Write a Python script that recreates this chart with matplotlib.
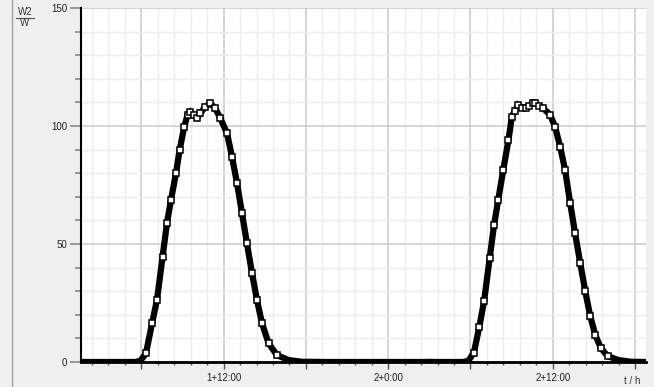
import numpy as np
import matplotlib.pyplot as plt
from matplotlib.ticker import MultipleLocator, FuncFormatter
from matplotlib.lines import Line2D

plt.rcParams['font.family'] = ['Liberation Sans', 'DejaVu Sans']

# time in hours (day*24 + hour), values in W2/W
t_day1 = [25.6, 27.0, 28.5, 29.56, 29.93, 30.34, 30.78, 31.14, 31.55, 31.87, 32.16,
          32.53, 32.79, 33.13, 33.37, 33.57, 33.83, 34.08, 34.30, 34.66, 35.03,
          35.39, 35.76, 36.25, 36.61, 36.98, 37.34, 37.70, 38.07, 38.43, 38.80,
          39.28, 39.89, 40.74, 41.71, 43.5, 46.0, 48.5, 51.0]
v_day1 = [0, 0, 0, 0, 0.5, 3.7, 16.4, 26.3, 44.6, 58.9, 68.6,
          80.1, 89.8, 99.7, 104.7, 106.0, 104.5, 103.5, 105.5, 108.0, 109.6,
          107.5, 103.3, 96.9, 87.0, 75.7, 63.0, 50.3, 37.6, 26.3, 16.4,
          7.9, 2.9, 0.8, 0.1, 0, 0, 0, 0]

t_day2 = [51.0, 53.45, 53.85, 54.25, 54.65, 55.0, 55.4, 55.72, 56.02, 56.39, 56.77,
          57.02, 57.25, 57.48, 57.75, 58.05, 58.3, 58.55, 58.72, 59.0, 59.30,
          59.81, 60.17, 60.54, 60.90, 61.27, 61.63, 62.0, 62.37, 62.73, 63.1,
          63.5, 64.0, 64.8, 65.7, 66.8]
v_day2 = [0, 0, 0.5, 4.0, 15.0, 26.0, 44.0, 58.0, 68.6, 81.4, 94.0,
          104.0, 106.5, 108.9, 107.8, 107.5, 108.5, 109.9, 109.9, 108.5, 107.6,
          104.7, 99.7, 91.2, 81.4, 67.3, 54.5, 42.0, 30.0, 19.5, 11.5,
          6.0, 2.5, 0.8, 0.1, 0]

fig = plt.figure(figsize=(6.54, 3.87), dpi=100, facecolor='#efefef')
ax = fig.add_axes([81/654, 1-362/387, 565/654, 354/387])
ax.set_facecolor('white')

for t, v in [(t_day1, v_day1), (t_day2, v_day2)]:
    t = np.array(t)
    v = np.array(v)
    ax.plot(t, v, color='black', lw=4.5, solid_joinstyle='miter', zorder=3)
    day = v > 1
    ax.plot(t[day], v[day], ls='none', marker='s', ms=4, mfc='white',
            mec='black', mew=1.1, zorder=4)

ax.set_xlim(25.6, 66.8)
ax.set_ylim(0, 150)

ax.xaxis.set_major_locator(MultipleLocator(6))
ax.xaxis.set_minor_locator(MultipleLocator(1.2))
ax.yaxis.set_major_locator(MultipleLocator(50))
ax.yaxis.set_minor_locator(MultipleLocator(10))

def fmt_time(h, pos):
    if round(h) % 12 != 0:
        return ''
    h = int(round(h))
    return f'{h // 24}+{h % 24}:00'

ax.xaxis.set_major_formatter(FuncFormatter(fmt_time))

ax.grid(which='minor', color='#ededed', lw=1, zorder=0)
ax.grid(which='major', color='#cdcdcd', lw=1.2, zorder=0)
ax.set_axisbelow(True)

ax.tick_params(axis='y', which='major', length=8, width=1.2, color='#888888',
               labelsize=7, pad=2, labelcolor='#222222')
ax.tick_params(axis='y', which='minor', length=4.5, width=1.2, color='#888888')
ax.tick_params(axis='x', which='major', length=5, width=1, color='#555555',
               labelsize=7, pad=3, labelcolor='#222222')
ax.tick_params(axis='x', which='minor', length=2.5, width=1, color='#555555')

for s in ['top', 'right']:
    ax.spines[s].set_visible(False)
ax.spines['left'].set_linewidth(1.5)
ax.spines['bottom'].set_linewidth(2)
ax.spines['left'].set_zorder(5)
ax.spines['bottom'].set_zorder(5)

# unit label as fraction at top left
fig.text(25/654, 1-12/387, 'W2', fontsize=7, ha='center', va='center', color='#333333')
fig.text(25/654, 1-23/387, 'W', fontsize=7, ha='center', va='center', color='#333333')
fig.add_artist(Line2D([16/654, 34/654], [1-17.5/387, 1-17.5/387], color='#555555', lw=0.8))
fig.text(632/654, 1-381/387, 't / h', fontsize=7, ha='center', va='center', color='#333333')

# frame line on the left edge
fig.add_artist(Line2D([12/654, 12/654], [0, 1], color='#a0a0a0', lw=1))

fig.savefig('out.png', dpi=100, facecolor=fig.get_facecolor())
